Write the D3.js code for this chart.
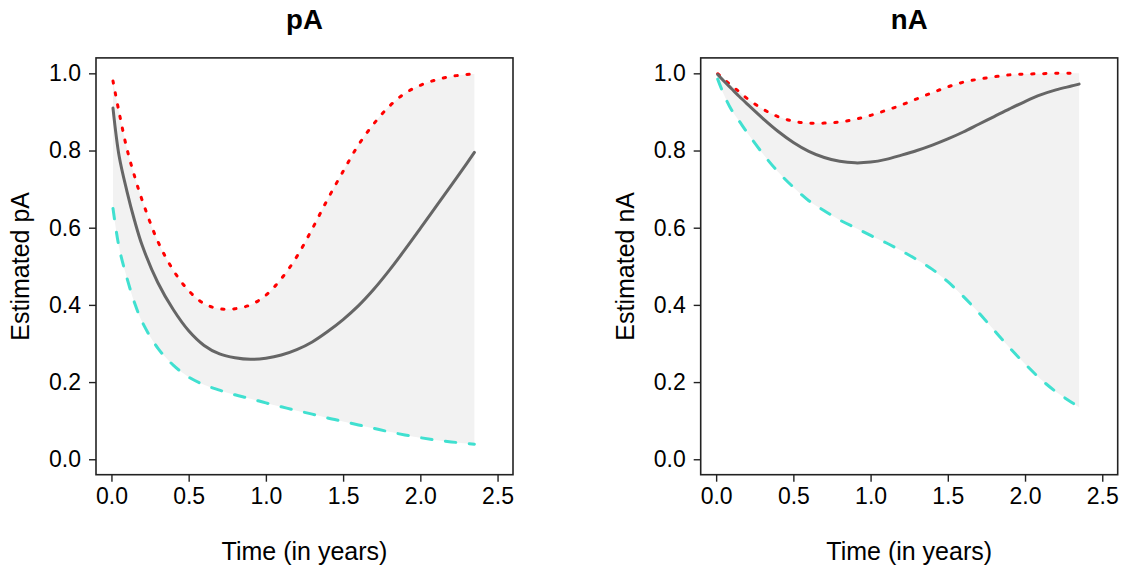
<!DOCTYPE html>
<html>
<head>
<meta charset="utf-8">
<script src="https://cdn.jsdelivr.net/npm/d3@7"></script>
<style>
  html, body { margin: 0; padding: 0; background: #fff; }
  svg { display: block; font-family: "Liberation Sans", Arial, Helvetica, sans-serif; }
</style>
</head>
<body>
<svg id="chart" width="1126" height="569"></svg>
<script>
// ---- data ----
const times = [0.01, 0.05, 0.1, 0.15, 0.2, 0.3, 0.4, 0.5, 0.6, 0.7, 0.8, 0.9, 1.0, 1.1, 1.2, 1.3, 1.4, 1.5, 1.6, 1.7, 1.8, 1.9, 2.0, 2.1, 2.2, 2.3, 2.35];

const pA_est   = [0.91, 0.785, 0.695, 0.618, 0.553, 0.458, 0.388, 0.333, 0.295, 0.273, 0.263, 0.259, 0.262, 0.27, 0.284, 0.304, 0.331, 0.362, 0.398, 0.441, 0.49, 0.543, 0.598, 0.654, 0.71, 0.766, 0.795];
const pA_upper = [0.98, 0.898, 0.805, 0.733, 0.67, 0.565, 0.49, 0.437, 0.403, 0.39, 0.39, 0.4, 0.425, 0.468, 0.525, 0.597, 0.674, 0.746, 0.815, 0.87, 0.915, 0.948, 0.969, 0.983, 0.992, 0.997, 0.998];
const pA_lower = [0.65, 0.548, 0.47, 0.405, 0.355, 0.288, 0.244, 0.213, 0.193, 0.179, 0.167, 0.157, 0.146, 0.136, 0.126, 0.117, 0.107, 0.098, 0.089, 0.08, 0.071, 0.063, 0.056, 0.05, 0.045, 0.041, 0.039];

const nA_est   = [0.997, 0.98, 0.96, 0.94, 0.921, 0.884, 0.85, 0.821, 0.798, 0.782, 0.772, 0.768, 0.77, 0.777, 0.788, 0.8, 0.814, 0.83, 0.848, 0.868, 0.888, 0.908, 0.927, 0.944, 0.957, 0.967, 0.972];
const nA_upper = [0.999, 0.985, 0.968, 0.952, 0.935, 0.908, 0.888, 0.876, 0.871, 0.871, 0.874, 0.881, 0.891, 0.904, 0.918, 0.934, 0.95, 0.965, 0.977, 0.985, 0.991, 0.996, 0.998, 0.999, 1.0, 1.0, 1.0];
const nA_lower = [0.985, 0.945, 0.905, 0.876, 0.847, 0.793, 0.745, 0.705, 0.67, 0.644, 0.62, 0.6, 0.58, 0.561, 0.54, 0.517, 0.492, 0.46, 0.422, 0.38, 0.334, 0.289, 0.247, 0.208, 0.175, 0.148, 0.135];

const xTicks = [0, 0.5, 1.0, 1.5, 2.0, 2.5];
const yTicks = [0, 0.2, 0.4, 0.6, 0.8, 1.0];

const panels = [
  { title: "pA", ylab: "Estimated pA", est: pA_est, upper: pA_upper, lower: pA_lower },
  { title: "nA", ylab: "Estimated nA", est: nA_est, upper: nA_upper, lower: nA_lower }
];

// ---- layout ----
const svg = d3.select("#chart");
const boxW = 417, boxTop = 57.9, boxBottom = 474.7;
const lefts = [96, 700.7];
const curve = d3.curveCatmullRom.alpha(0.5);

panels.forEach((p, i) => {
  const L = lefts[i];
  const x = d3.scaleLinear().domain([-0.1, 2.6]).range([L, L + boxW]);
  const y = d3.scaleLinear().domain([-0.04, 1.04]).range([boxBottom, boxTop]);
  const g = svg.append("g");

  const rows = times.map((t, k) => ({ t, est: p.est[k], up: p.upper[k], lo: p.lower[k] }));

  // band
  g.append("path")
    .datum(rows)
    .attr("fill", "#F2F2F2")
    .attr("d", d3.area().curve(curve)
      .x(d => x(d.t)).y0(d => y(d.lo)).y1(d => y(d.up)));

  const line = key => d3.line().curve(curve).x(d => x(d.t)).y(d => y(d[key]));

  g.append("path").datum(rows).attr("d", line("up"))
    .attr("fill", "none").attr("stroke", "#FF0000").attr("stroke-width", 3)
    .attr("stroke-linecap", "round").attr("stroke-dasharray", "2.3,9.7");
  g.append("path").datum(rows).attr("d", line("lo"))
    .attr("fill", "none").attr("stroke", "#40E0D0").attr("stroke-width", 3)
    .attr("stroke-linecap", "round").attr("stroke-dasharray", "10.5,13.5");
  g.append("path").datum(rows).attr("d", line("est"))
    .attr("fill", "none").attr("stroke", "#666666").attr("stroke-width", 3)
    .attr("stroke-linecap", "round");

  // box
  g.append("rect")
    .attr("x", L).attr("y", boxTop).attr("width", boxW).attr("height", boxBottom - boxTop)
    .attr("fill", "none").attr("stroke", "#222").attr("stroke-width", 1.6);

  // axes
  const ax = g.append("g").attr("transform", `translate(0,${boxBottom})`)
    .call(d3.axisBottom(x).tickValues(xTicks).tickFormat(d3.format(".1f")).tickSize(7).tickPadding(6));
  const ay = g.append("g").attr("transform", `translate(${L},0)`)
    .call(d3.axisLeft(y).tickValues(yTicks).tickFormat(d3.format(".1f")).tickSize(7).tickPadding(8));
  [ax, ay].forEach(a => {
    a.select(".domain").remove();
    a.selectAll(".tick line").attr("stroke", "#222").attr("stroke-width", 1.4);
    a.selectAll(".tick text").attr("fill", "#000").style("font-size", "23px")
      .style("font-family", '"Liberation Sans", Arial, sans-serif');
  });

  // titles
  g.append("text").attr("x", L + boxW / 2).attr("y", 28.5).attr("text-anchor", "middle")
    .style("font-size", "27.6px").style("font-weight", "bold").text(p.title);
  g.append("text").attr("x", L + boxW / 2).attr("y", 560).attr("text-anchor", "middle")
    .style("font-size", "25px").text("Time (in years)");
  g.append("text").attr("transform", `translate(${L - 67},${(boxTop + boxBottom) / 2}) rotate(-90)`)
    .attr("text-anchor", "middle").style("font-size", "25px").text(p.ylab);
});
</script>
</body>
</html>
